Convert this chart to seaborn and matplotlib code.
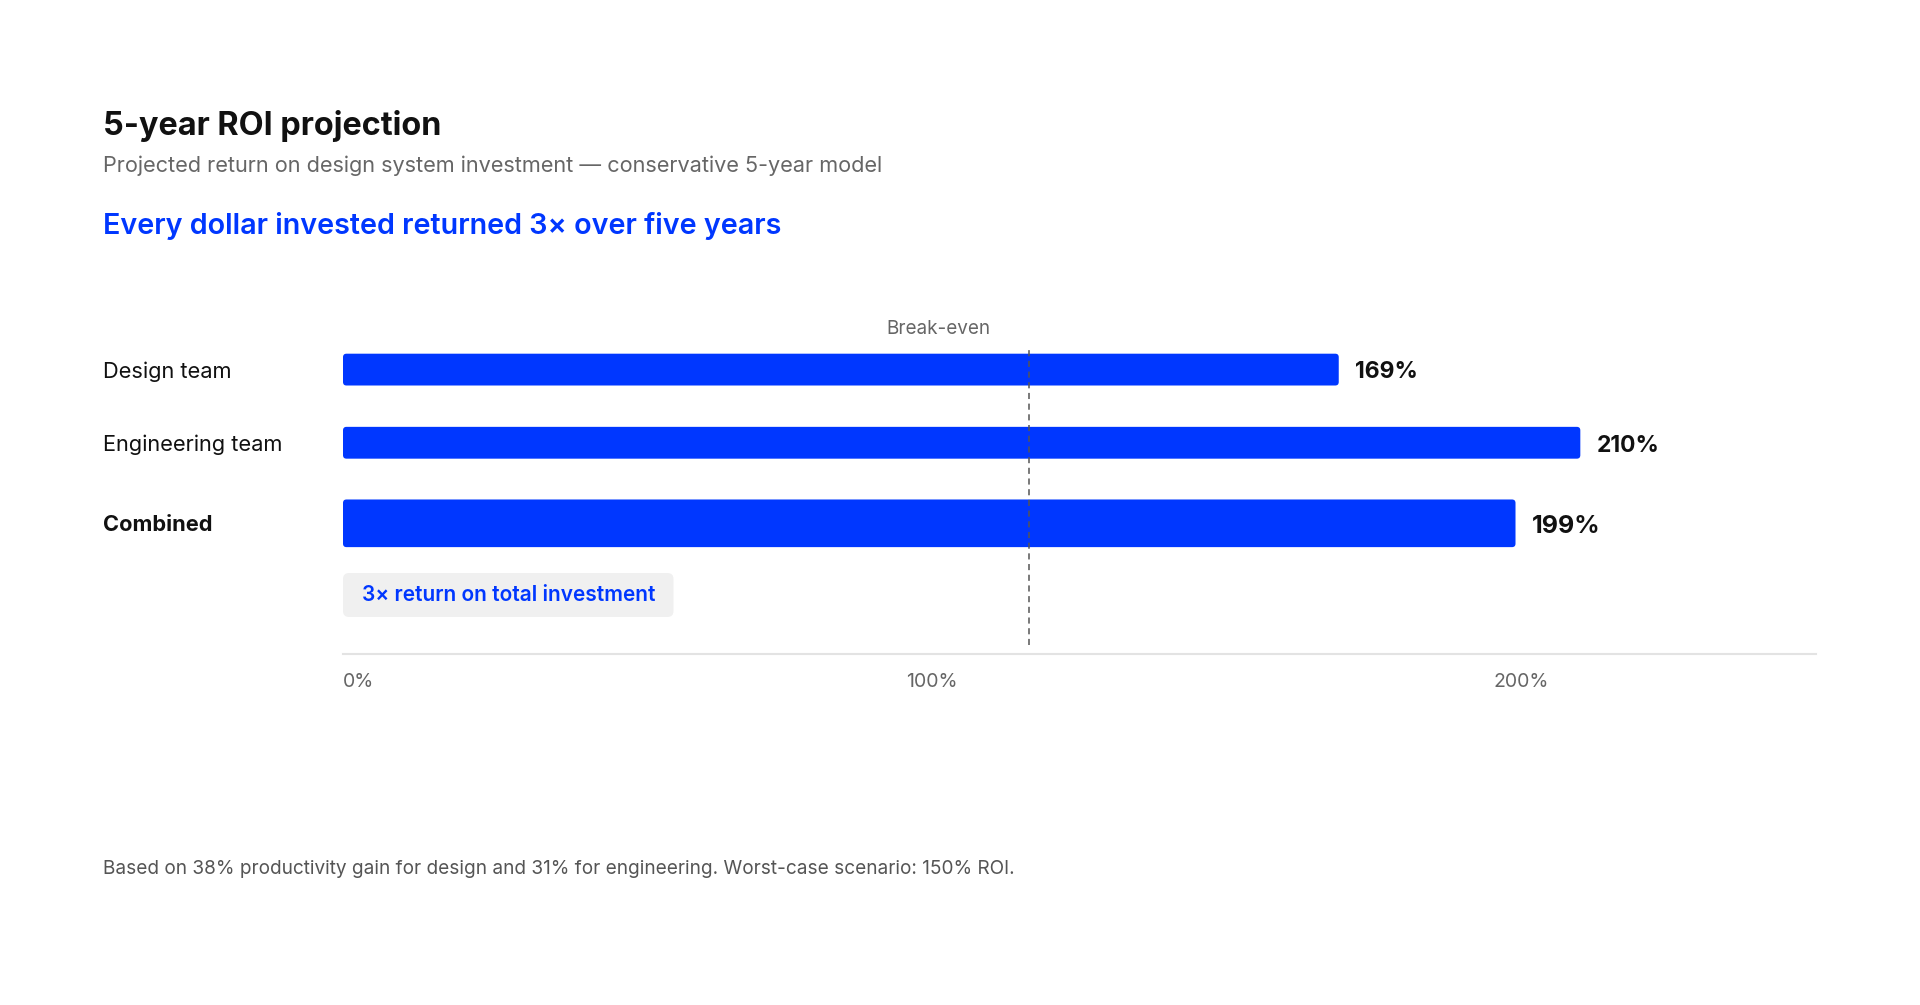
import matplotlib
matplotlib.use("Agg")
import matplotlib.pyplot as plt
import matplotlib.transforms as mtransforms
from matplotlib.patches import FancyBboxPatch
import seaborn as sns
import pandas as pd

# ---- data ----
categories = ["Design team", "Engineering team", "Combined"]
roi_values = [169, 210, 199]
value_labels = ["169%", "210%", "199%"]
tick_values = [0, 100, 200]
tick_labels = ["0%", "100%", "200%"]
break_even_value = 116.5
break_even_label_x = 101
x_max = 250

title = "5-year ROI projection"
subtitle = "Projected return on design system investment \u2014 conservative 5-year model"
headline = "Every dollar invested returned 3\u00d7 over five years"
callout = "3\u00d7 return on total investment"
footnote = "Based on 38% productivity gain for design and 31% for engineering. Worst-case scenario: 150% ROI."

BLUE = "#0037FF"
W, H = 1920, 1005
row_shift = [0.0, -0.048, 0.0]   # small layout nudge per row (style, not data)

sns.set_theme(style="white")
plt.rcParams["font.family"] = ["Inter", "DejaVu Sans"]

fig = plt.figure(figsize=(W / 100, H / 100), dpi=100)
fig.patch.set_facecolor("white")

ax_left, ax_right, ax_top, ax_bottom = 343, 1816, 326, 654
ax = fig.add_axes([ax_left / W, (H - ax_bottom) / H, (ax_right - ax_left) / W, (ax_bottom - ax_top) / H])

df = pd.DataFrame({"category": categories, "roi": roi_values})
sns.barplot(data=df, x="roi", y="category", orient="h", color=BLUE, saturation=1,
            width=0.414, ax=ax, order=categories)

y_unit_px = 76.85
ax.set_xlim(0, x_max)
ax.set_ylim((ax_bottom - 369.6) / y_unit_px, (ax_top - 369.6) / y_unit_px)
x_unit_px = (ax_right - ax_left) / x_max

# Combined bar is thicker; give bars softly rounded corners
bars = list(ax.patches)
for i, p in enumerate(bars):
    x0, y0, w, h = p.get_x(), p.get_y() + row_shift[i], p.get_width(), p.get_height()
    if categories[i] == "Combined":
        c = y0 + h / 2
        h = 0.62
        y0 = c - h / 2
    r = 3.5 / x_unit_px
    fb = FancyBboxPatch((x0, y0), w, h, boxstyle=f"round,pad=0,rounding_size={r}",
                        mutation_aspect=x_unit_px / y_unit_px,
                        fc=BLUE, ec="none", zorder=2)
    p.remove()
    ax.add_patch(fb)

# break-even line
ax.axvline(break_even_value, ymin=0.027, ymax=0.934, color="#555555", lw=1.1,
           linestyle=(0, (4, 3)), zorder=3)
trans = mtransforms.blended_transform_factory(ax.transData, ax.transAxes)
ax.text(break_even_label_x, 0.991, "Break-even", transform=trans, ha="center", va="center",
        fontsize=13.6, color="#666666")

# value labels
for i, (v, lbl) in enumerate(zip(roi_values, value_labels)):
    big = categories[i] == "Combined"
    ax.annotate(lbl, (v, i + row_shift[i]), xytext=(11.5, -2.0), textcoords="offset points",
                ha="left", va="center", fontsize=18 if big else 16.5, fontweight="bold",
                color="#111111")

# callout with padded grey pill
ctext = ax.annotate(callout, (0, (595 - 369.6) / y_unit_px), xytext=(18.5 * 0.72, 0),
                    textcoords="offset points", ha="left", va="center", fontsize=15,
                    fontweight="semibold", color=BLUE, zorder=4)
fig.canvas.draw()
bb = ctext.get_window_extent()
box_h = 44
box_left = ax.transData.transform((0, 0))[0]
cy = (bb.y0 + bb.y1) / 2
pill = FancyBboxPatch((box_left, cy - box_h / 2), (bb.x1 + 18.5) - box_left, box_h,
                      boxstyle="round,pad=0,rounding_size=6", fc="#F0F0F0", ec="none",
                      transform=None, zorder=3)
ax.add_artist(pill)

# axes styling
for s in ["top", "right", "left"]:
    ax.spines[s].set_visible(False)
ax.spines["bottom"].set_color("#E3E3E3")
ax.spines["bottom"].set_linewidth(1.5)
ax.set_xlabel("")
ax.set_ylabel("")
ax.set_xticks(tick_values, tick_labels)
ax.tick_params(axis="x", length=0, pad=13.5, labelsize=14, labelcolor="#666666")
for j, t in enumerate(ax.get_xticklabels()):
    t.set_ha("left" if j == 0 else "center")
ax.set_yticks([i + s for i, s in enumerate(row_shift)], categories)
ax.tick_params(axis="y", length=0, pad=(ax_left - 103) * 0.72, labelsize=15.7, labelcolor="#111111")
for t in ax.get_yticklabels():
    t.set_ha("left")
    if t.get_text() == "Combined":
        t.set_fontweight("bold")
ax.grid(False)

# header / footer
fig.text(103 / W, 1 - 125.5 / H, title, ha="left", va="center", fontsize=23.3, fontweight="bold", color="#111111")
fig.text(103 / W, 1 - 166 / H, subtitle, ha="left", va="center", fontsize=15.6, color="#666666")
fig.text(103 / W, 1 - 226 / H, headline, ha="left", va="center", fontsize=20.7, fontweight="semibold", color=BLUE)
fig.text(103 / W, 1 - 869 / H, footnote, ha="left", va="center", fontsize=13.7, color="#555555")

fig.savefig("out.png", dpi=100, facecolor="white")
